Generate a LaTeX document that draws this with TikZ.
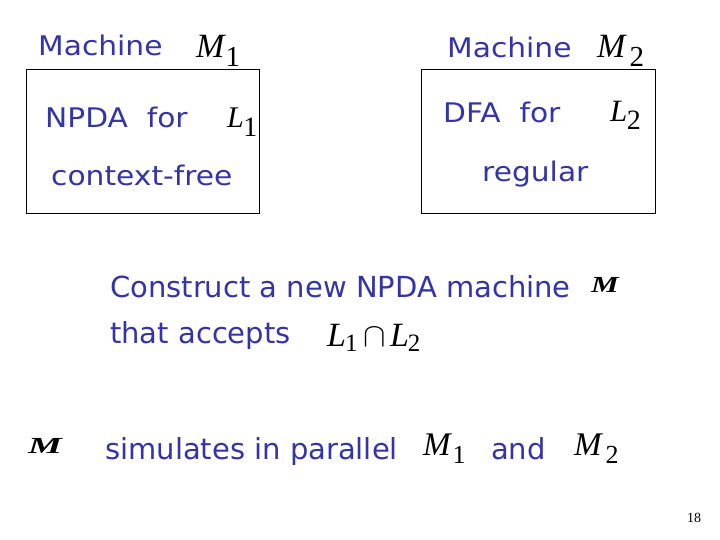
\documentclass[tikz,border=0pt]{standalone}
\usepackage{fontspec}
\setmainfont{DejaVu Sans}
\newfontfamily\topfnt[FakeStretch=1.1]{DejaVu Sans}
\newfontfamily\mathfnt{Liberation Serif}
\definecolor{slideblue}{RGB}{51,51,170}
% letter, subscript, letter size, subscript size, drop, gap
\newcommand{\mySub}[6]{{\mathfnt\fontsize{#3}{#3}\selectfont\itshape #1}\kern#6pt\raisebox{-#5pt}{\mathfnt\fontsize{#4}{#4}\selectfont #2}}
\newcommand{\wideM}[1]{\scalebox{#1}[1]{\mathfnt\fontsize{23}{23}\selectfont\bfseries\itshape M}}
\begin{document}
\begin{tikzpicture}[x=1pt,y=-1pt,
  toptxt/.style={anchor=base west,inner sep=0,text=slideblue,font=\topfnt\fontsize{27}{27}\selectfont},
  lowtxt/.style={anchor=base west,inner sep=0,text=slideblue,font=\fontsize{29}{29}\selectfont},
  mathtxt/.style={anchor=base west,inner sep=0,text=black},
  machbox/.style={draw=black,line width=1pt}]
\useasboundingbox[fill=white] (0,0) rectangle (720,540);
% boxes
\draw[machbox] (26,70) rectangle (259,214);
\draw[machbox] (421,70) rectangle (655,214);
% left machine
\node[toptxt] (mach1) at (38,56) {Machine};
\node[mathtxt] (m1) at (196,58) {\mySub{M}{1}{34}{29}{9}{1}};
\node[toptxt] (npda) at (45,128) {NPDA\ \ for};
\node[mathtxt] (l1) at (227,128) {\mySub{L}{1}{30}{28}{9}{-0.5}};
\node[toptxt] (cf) at (51,186) {context-free};
% right machine
\node[toptxt] (mach2) at (447,58) {Machine};
\node[mathtxt] (m2) at (597,58) {\mySub{M}{2}{34}{29}{9}{4}};
\node[toptxt] (dfa) at (443,123) {DFA\ \ for};
\node[mathtxt] (l2) at (610,122) {\mySub{L}{2}{31}{28}{8}{-0.5}};
\node[toptxt] (reg) at (482,182) {regular};
% construction text
\node[lowtxt] (con) at (110,297) {Construct a new NPDA machine};
\node[mathtxt] (mm) at (591,292) {\wideM{1.35}};
\node[lowtxt] (acc) at (110,343) {that accepts};
\node[mathtxt] (cap) at (327,346) {\mySub{L}{1}{34}{25}{5}{-1}\kern6pt\scalebox{1.35}{\fontsize{30}{30}\selectfont$\cap$}\kern4pt\mySub{L}{2}{34}{25}{5}{-1}};
% bottom line
\node[mathtxt] (mb) at (28,453) {\wideM{1.65}};
\node[lowtxt] (sim) at (105,459) {simulates in parallel};
\node[mathtxt] (bm1) at (423,455) {\mySub{M}{1}{33}{26}{8}{2}};
\node[lowtxt] (and) at (491,459) {and};
\node[mathtxt] (bm2) at (574,455) {\mySub{M}{2}{33}{26}{8}{4}};
% page number
\node[mathtxt,font=\mathfnt\fontsize{14}{14}\selectfont] (pg) at (687,522) {18};
\end{tikzpicture}
\end{document}
